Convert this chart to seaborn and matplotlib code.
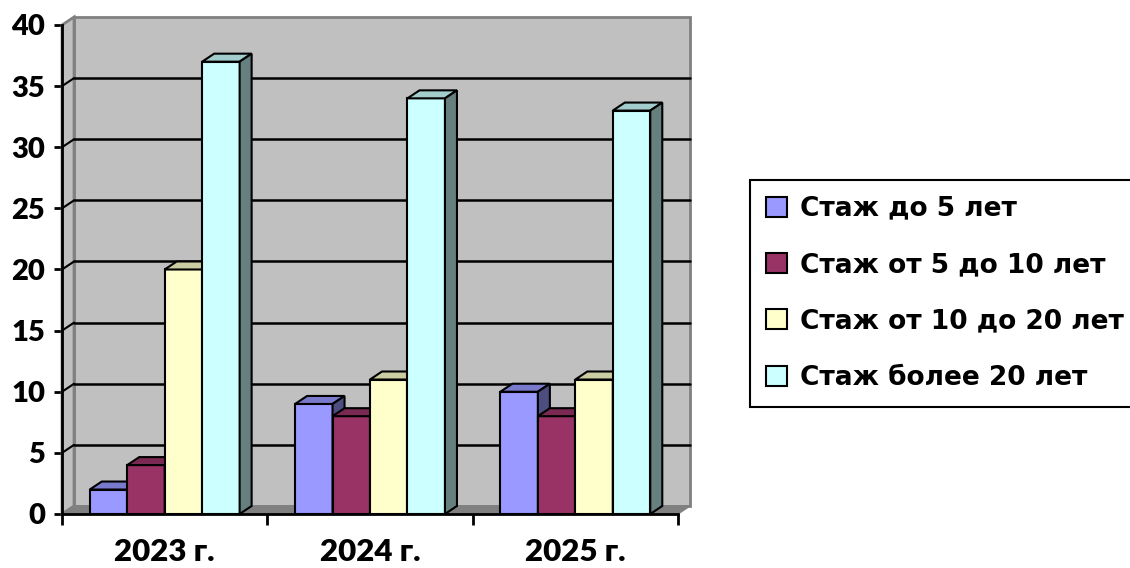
import numpy as np
import pandas as pd
import seaborn as sns
import matplotlib.pyplot as plt
from matplotlib.patches import Polygon
from matplotlib.colors import to_rgb

# Data
years = ['2023 г.', '2024 г.', '2025 г.']
groups = ['Стаж до 5 лет', 'Стаж от 5 до 10 лет', 'Стаж от 10 до 20 лет', 'Стаж более 20 лет']
upto5 = [2, 9, 10]
from5to10 = [4, 8, 8]
from10to20 = [20, 11, 11]
over20 = [37, 34, 33]
colors = ['#9999FF', '#993366', '#FFFFCC', '#CCFFFF']

df = pd.DataFrame({
    'year': years * 4,
    'group': np.repeat(groups, len(years)),
    'value': upto5 + from5to10 + from10to20 + over20,
})

sns.set_style('white')
plt.rcParams['font.family'] = ['Lato', 'DejaVu Sans']
plt.rcParams['text.color'] = 'black'

fig = plt.figure(figsize=(11.3, 5.68), dpi=100)
ax = fig.add_axes([0.0549, 0.0951, 0.5451, 0.8609])
ax.patch.set_alpha(0)

sns.barplot(data=df, x='year', y='value', hue='group', palette=colors,
            width=0.73, gap=0, saturation=1, edgecolor='black', linewidth=1.5,
            ax=ax)
ax.set_xlim(-0.5, 2.5)
ax.set_ylim(0, 40)
ax.set_xlabel('')
ax.set_ylabel('')

# real bars only (seaborn may add empty ones for the legend)
bars = sorted([p for p in ax.patches if p.get_width() > 0 and p.get_height() > 0],
              key=lambda b: b.get_x())

# depth of the fake 3d look, in pixels -> data units
pos = ax.get_position()
ax_w = pos.width * fig.get_figwidth() * fig.dpi
ax_h = pos.height * fig.get_figheight() * fig.dpi
dx = 12 / (ax_w / 3)
dy = 8 / (ax_h / 40)

# walls and floor
x0, x1 = -0.5, 2.5
back = Polygon([(x0 + dx, dy), (x1 + dx, dy), (x1 + dx, 40 + dy), (x0 + dx, 40 + dy)],
               closed=True, fc='#C0C0C0', ec='#808080', lw=2, zorder=0.5, clip_on=False)
lwall = Polygon([(x0, 0), (x0 + dx, dy), (x0 + dx, 40 + dy), (x0, 40)],
                closed=True, fc='#C0C0C0', ec='#808080', lw=2, zorder=0.6, clip_on=False)
floor = Polygon([(x0, 0), (x1, 0), (x1 + dx, dy), (x0 + dx, dy)],
                closed=True, fc='#808080', ec='#808080', lw=1, zorder=0.7, clip_on=False)
for p in (back, lwall, floor):
    ax.add_patch(p)

for v in range(5, 40, 5):
    ax.plot([x0 + dx, x1 + dx], [v + dy, v + dy], color='black', lw=1.8, zorder=1, clip_on=False)
    ax.plot([x0, x0 + dx], [v, v + dy], color='black', lw=1.5, zorder=1, clip_on=False)

# top and side faces of each bar, left to right
for i, b in enumerate(bars):
    x, w, h = b.get_x(), b.get_width(), b.get_height()
    c = np.array(to_rgb(b.get_facecolor()))
    z = 3 + i * 0.03
    b.set_zorder(z)
    top = Polygon([(x, h), (x + w, h), (x + w + dx, h + dy), (x + dx, h + dy)],
                  closed=True, fc=c * 0.8, ec='black', lw=1.5, zorder=z + 0.01, clip_on=False)
    sd = Polygon([(x + w, 0), (x + w + dx, dy), (x + w + dx, h + dy), (x + w, h)],
                 closed=True, fc=c * 0.5, ec='black', lw=1.5, zorder=z + 0.02, clip_on=False)
    ax.add_patch(top)
    ax.add_patch(sd)

# axes
sns.despine(ax=ax, top=True, right=True)
for s in ('left', 'bottom'):
    ax.spines[s].set_color('black')
    ax.spines[s].set_linewidth(2)
    ax.spines[s].set_zorder(2)

ax.set_yticks(range(0, 41, 5))
ax.tick_params(axis='y', which='major', direction='out', length=6, width=2, color='black',
               labelcolor='black', labelsize=21, pad=6, left=True)
ax.set_xticks([-0.5, 0.5, 1.5, 2.5], minor=True)
ax.tick_params(axis='x', which='minor', direction='out', length=8, width=2, color='black',
               bottom=True)
ax.tick_params(axis='x', which='major', length=0, labelsize=22.5, labelcolor='black', pad=17.5)
for lab in ax.get_yticklabels() + ax.get_xticklabels():
    lab.set_fontweight('heavy')

# legend
handles, labels = ax.get_legend_handles_labels()
ax.get_legend().remove()
for hd in handles:
    hd.set_edgecolor('black')
    hd.set_linewidth(1.5)
leg = fig.legend(handles, labels, loc='upper left',
                 bbox_to_anchor=(0.6637, 0.2923, 0.40, 0.3908), mode='expand',
                 frameon=True, fancybox=False, edgecolor='black', framealpha=1,
                 handlelength=0.8, handleheight=0.8, handletextpad=0.5,
                 labelspacing=1.15, borderpad=0.6, borderaxespad=0,
                 prop={'family': 'DejaVu Sans', 'weight': 'bold', 'size': 19})
leg.get_frame().set_linewidth(1.5)

fig.savefig('out.png', dpi=100)
